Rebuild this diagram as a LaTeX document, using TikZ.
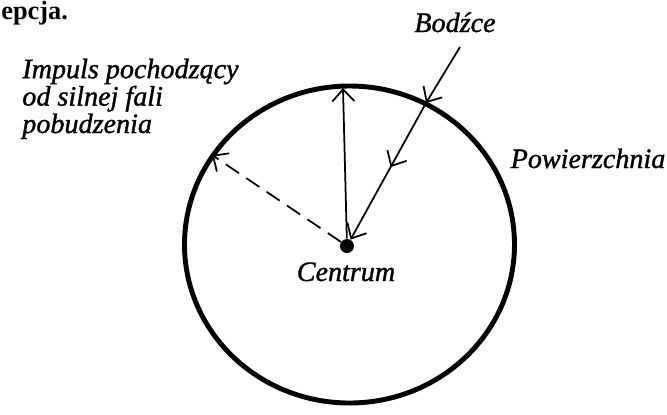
\documentclass[tikz,border=0pt]{standalone}
\usepackage{fontspec}
\setmainfont{Liberation Serif}
\newfontfamily\lblfont[FakeBold=1.2]{Liberation Serif}
\usepackage{tikz}
\usetikzlibrary{arrows.meta,positioning,calc,decorations.markings}
\tikzset{
  lbl/.style={font=\lblfont\fontsize{16}{15.6}\selectfont\itshape, inner sep=0pt},
  arr/.style={line width=1pt, -{Straight Barb[length=2.4mm,width=4.4mm,line width=1pt]}},
  midarr/.style={postaction={decorate}, decoration={markings,
    mark=at position 0.47 with {\arrow{Straight Barb[length=2.4mm,width=4.4mm,line width=1pt]}}}},
}
\begin{document}
\begin{tikzpicture}[x=0.02cm,y=-0.02cm]
\useasboundingbox (0,0) rectangle (667,414);
% surface
\draw[line width=2.8pt] (349.5,244.5) ellipse (165 and 158.5);
\node[circle, fill, inner sep=0pt, minimum size=0.28cm] (cen) at (347,246) {};
% points on the surface
\coordinate (top) at (343,88);
\coordinate (imp) at (212,155);
\coordinate (hit) at (426,103);
\coordinate (src) at (460,47);
% arrows
\draw[arr] (cen) -- (top);
\draw[arr, dashed, dash pattern=on 9pt off 5pt] (cen) -- (imp);
\draw[arr] (src) -- (hit);
\draw[arr, midarr] (hit) -- (cen);
% labels
\node[font=\fontsize{15}{16}\selectfont\bfseries, anchor=base west, inner sep=0pt] (head) at (1,19) {epcja.};
\node[lbl, anchor=base west, align=left] (impl) at (22,133) {Impuls pochodzący\\od silnej fali\\pobudzenia};
\node[lbl, anchor=base] (bodz) at (455,32) {Bodźce};
\node[lbl, anchor=base] (pow) at (588,168) {Powierzchnia};
\node[lbl, anchor=base] (centr) at (346,281) {Centrum};
\end{tikzpicture}
\end{document}
